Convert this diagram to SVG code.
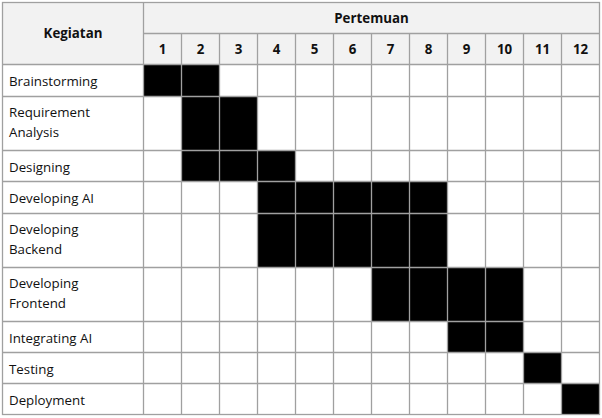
<svg xmlns="http://www.w3.org/2000/svg" width="602" height="418" viewBox="0 0 602 418">
<style>
.t{font-family:"Open Sans","Liberation Sans",sans-serif;font-size:13.3px;fill:#111}
.b{font-weight:bold;text-anchor:middle}
.g{stroke:#a0a0a0;stroke-width:1.3;fill:none}
.k{fill:#000}
</style>
<rect x="0" y="0" width="602" height="418" fill="#fff"/>
<rect x="2.5" y="2.5" width="597" height="62" fill="#f2f2f2"/>
<g id="header">
<text class="t b" x="73" y="38">Kegiatan</text>
<text class="t b" x="371.5" y="23">Pertemuan</text>
<text class="t b" x="162.5" y="53.5">1</text>
<text class="t b" x="200.5" y="53.5">2</text>
<text class="t b" x="238.5" y="53.5">3</text>
<text class="t b" x="276.5" y="53.5">4</text>
<text class="t b" x="314.5" y="53.5">5</text>
<text class="t b" x="352.5" y="53.5">6</text>
<text class="t b" x="390.5" y="53.5">7</text>
<text class="t b" x="428.5" y="53.5">8</text>
<text class="t b" x="466.5" y="53.5">9</text>
<text class="t b" x="504.5" y="53.5">10</text>
<text class="t b" x="542.5" y="53.5">11</text>
<text class="t b" x="580.5" y="53.5">12</text>
</g>
<g id="row-brainstorming">
<text class="t" x="9" y="86.3">Brainstorming</text>
<rect class="k" x="143.5" y="64.5" width="76" height="32"/>
</g>
<g id="row-requirement">
<text class="t" x="9" y="117.3">Requirement</text>
<text class="t" x="9" y="137.3">Analysis</text>
<rect class="k" x="181.5" y="96.5" width="76" height="54"/>
</g>
<g id="row-designing">
<text class="t" x="9" y="171.5">Designing</text>
<rect class="k" x="181.5" y="150.5" width="114" height="31"/>
</g>
<g id="row-dev-ai">
<text class="t" x="9" y="203">Developing AI</text>
<rect class="k" x="257.5" y="181.5" width="190" height="32"/>
</g>
<g id="row-dev-backend">
<text class="t" x="9" y="234">Developing</text>
<text class="t" x="9" y="254">Backend</text>
<rect class="k" x="257.5" y="213.5" width="190" height="54"/>
</g>
<g id="row-dev-frontend">
<text class="t" x="9" y="288.3">Developing</text>
<text class="t" x="9" y="308.3">Frontend</text>
<rect class="k" x="371.5" y="267.5" width="152" height="54"/>
</g>
<g id="row-integrating">
<text class="t" x="9" y="342.8">Integrating AI</text>
<rect class="k" x="447.5" y="321.5" width="76" height="31"/>
</g>
<g id="row-testing">
<text class="t" x="9" y="373.8">Testing</text>
<rect class="k" x="523.5" y="352.5" width="38" height="31"/>
</g>
<g id="row-deployment">
<text class="t" x="9" y="404.8">Deployment</text>
<rect class="k" x="561.5" y="383.5" width="38" height="31"/>
</g>
<g id="grid" class="g">
<rect x="2.5" y="2.5" width="597" height="412"/>
<path d="M143.5 33.5H599.5M2.5 64.5H599.5M2.5 96.5H599.5M2.5 150.5H599.5M2.5 181.5H599.5M2.5 213.5H599.5M2.5 267.5H599.5M2.5 321.5H599.5M2.5 352.5H599.5M2.5 383.5H599.5"/>
<path d="M143.5 2.5V414.5M181.5 33.5V414.5M219.5 33.5V414.5M257.5 33.5V414.5M295.5 33.5V414.5M333.5 33.5V414.5M371.5 33.5V414.5M409.5 33.5V414.5M447.5 33.5V414.5M485.5 33.5V414.5M523.5 33.5V414.5M561.5 33.5V414.5"/>
</g>
</svg>
